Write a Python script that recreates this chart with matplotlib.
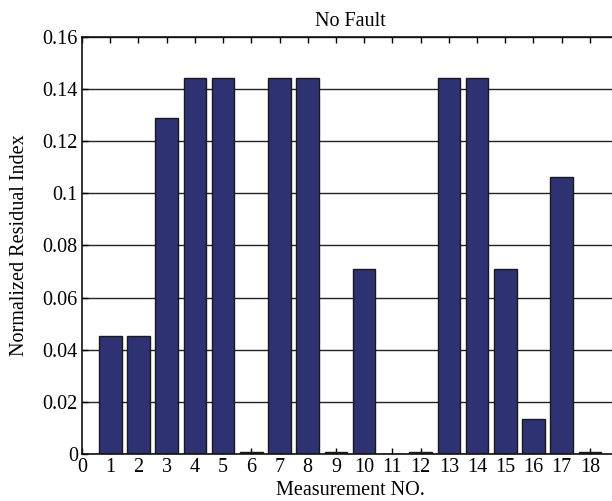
import matplotlib
matplotlib.use("Agg")
import matplotlib.pyplot as plt
import numpy as np

plt.rcParams['font.family'] = ['Liberation Serif', 'DejaVu Serif']

FONT_SIZE = 14.5

meas_no = list(range(1, 19))
resid = [0.0451, 0.0451, 0.1289, 0.1443, 0.1443, 0.0006, 0.1443, 0.1443, 0.0006,
         0.0711, 0.0, 0.0006, 0.1443, 0.1443, 0.0711, 0.0134, 0.1062, 0.0006]
yticks = [0, 0.02, 0.04, 0.06, 0.08, 0.1, 0.12, 0.14, 0.16]
ytick_labels = ["0", "0.02", "0.04", "0.06", "0.08", "0.1", "0.12", "0.14", "0.16"]

fig = plt.figure(figsize=(6.12, 5.01), dpi=100)
ax = fig.add_axes([0.134, 0.094, 0.876, 0.832])

ax.bar(meas_no, resid, width=0.8, color="#2e3172", edgecolor="#1a1a1a",
       linewidth=1.0, zorder=2)

ax.set_xlim(0, 19)
ax.set_ylim(0, 0.16)
ax.set_xticks(range(0, 19))
ax.set_yticks(yticks)
ax.set_yticklabels(ytick_labels)
ax.yaxis.grid(True, color="#222222", linewidth=1.0, zorder=0)
ax.set_axisbelow(True)

ax.tick_params(direction="in", top=True, right=False, labelsize=FONT_SIZE,
               length=4, width=1.0, pad=3)
for s in ax.spines.values():
    s.set_linewidth(1.2)
    s.set_color("#111111")

ax.set_title("No Fault", fontsize=FONT_SIZE, pad=8)
ax.set_xlabel("Measurement NO.", fontsize=FONT_SIZE, labelpad=3)
ax.set_ylabel("Normalized Residual Index", fontsize=FONT_SIZE, labelpad=10)

plt.savefig("out.png", dpi=100)
